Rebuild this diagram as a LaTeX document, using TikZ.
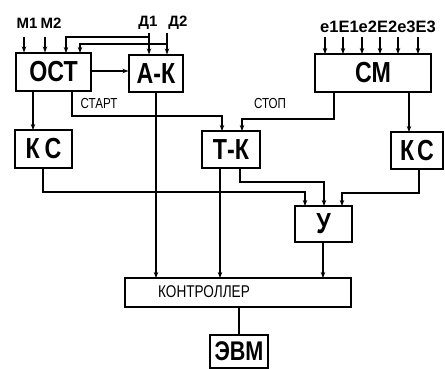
\documentclass[tikz,border=0pt]{standalone}
\usepackage{fontspec}
\setmainfont{Liberation Sans}
\newfontfamily\fnarrow[FakeStretch=0.8]{Liberation Sans}
\usetikzlibrary{arrows.meta}
\tikzset{
  x=1pt,y=-1pt,
  blk/.style={draw,line width=1.1pt,inner sep=0pt},
  bigtxt/.style={font=\fnarrow\bfseries\fontsize{29}{29}\selectfont},
  smalltxt/.style={font=\bfseries\fontsize{15}{15}\selectfont,inner sep=0pt},
  wire/.style={line width=1.1pt},
  arr/.style={wire,-{Stealth[length=6pt,width=4.5pt]}},
}
\begin{document}
\begin{tikzpicture}
\useasboundingbox (0,0) rectangle (445,369);
% blocks
\node[blk,bigtxt,minimum width=75pt,minimum height=38pt] (ost) at (53.5,72) {ОСТ};
\node[blk,bigtxt,minimum width=54pt,minimum height=37pt] (ak) at (156,73.5) {А-К};
\node[blk,bigtxt,minimum width=116pt,minimum height=38pt] (cm) at (373,73) {СМ};
\node[blk,bigtxt,minimum width=57pt,minimum height=38pt] (ksl) at (43.5,149) {К\hspace{5pt}С};
\node[blk,bigtxt,minimum width=58pt,minimum height=37pt] (tk) at (231,149.5) {Т-К};
\node[blk,bigtxt,minimum width=52pt,minimum height=37pt] (ksr) at (417,150.5) {К\hspace{3pt}С};
\node[blk,bigtxt,minimum width=57pt,minimum height=36pt] (u) at (323.5,224) {У};
\node[blk,minimum width=226pt,minimum height=29pt] (ctrl) at (238,292.5) {};
\node[font=\fnarrow\fontsize{17}{17}\selectfont,inner sep=0pt] (ctrltxt) at (204,292) {КОНТРОЛЛЕР};
\node[blk,font=\fnarrow\bfseries\fontsize{27}{27}\selectfont,minimum width=58pt,minimum height=33pt] (evm) at (239,351.5) {ЭВМ};
% input labels
\node[smalltxt] (m1) at (27,23) {М1};
\node[smalltxt] (m2) at (51,23) {М2};
\node[smalltxt] (d1) at (148,23) {Д1};
\node[smalltxt] (d2) at (178,23) {Д2};
\node[font=\bfseries\fontsize{16.5}{16.5}\selectfont,inner sep=0pt] (eE) at (378,27) {e1E1e2E2e3E3};
\node[font=\fnarrow\fontsize{14.5}{14.5}\selectfont,inner sep=0pt] (start) at (99,104) {СТАРТ};
\node[font=\fnarrow\fontsize{14.5}{14.5}\selectfont,inner sep=0pt] (stop) at (270,104) {СТОП};
% coordinates
\coordinate (m1t) at (24,37);
\coordinate (m2t) at (45,37);
\coordinate (d1t) at (149,33);
\coordinate (d2t) at (167,33);
% inputs
\draw[arr] (m1t) -- (m1t |- ost.north);
\draw[arr] (m2t) -- (m2t |- ost.north);
\draw[arr] (d1t) -- (d1t |- ak.north);
\draw[arr] (d2t) -- (d2t |- ak.north);
\draw[arr] (149,37) -- (66,37) -- (66,53);
\draw[arr] (167,44) -- (80,44) -- (80,53);
\foreach \xx in {325,343,362,380,398,418} {
  \draw[arr] (\xx,37) -- (\xx,54);
}
% OST connections
\draw[arr] (ost.east |- 0,71) -- (ak.west |- 0,71);
\draw[arr] (33,91) -- (33,130);
\draw[arr] (72,91) -- (72,116) -- (222,116) -- (222,131);
\draw[arr] (156,92) -- (156,278);
% CM connections
\draw[arr] (334,92) -- (334,119) -- (242,119) -- (242,131);
\draw[arr] (409,92) -- (409,132);
% to У
\draw[arr] (43,168) -- (43,192) -- (305,192) -- (305,206);
\draw[arr] (240,168) -- (240,182) -- (324,182) -- (324,206);
\draw[arr] (419,169) -- (419,193) -- (342,193) -- (342,206);
% to controller
\draw[arr] (220,168) -- (220,278);
\draw[arr] (323,242) -- (323,278);
\draw[wire] (ctrl.south -| evm) -- (evm.north);
\end{tikzpicture}
\end{document}
